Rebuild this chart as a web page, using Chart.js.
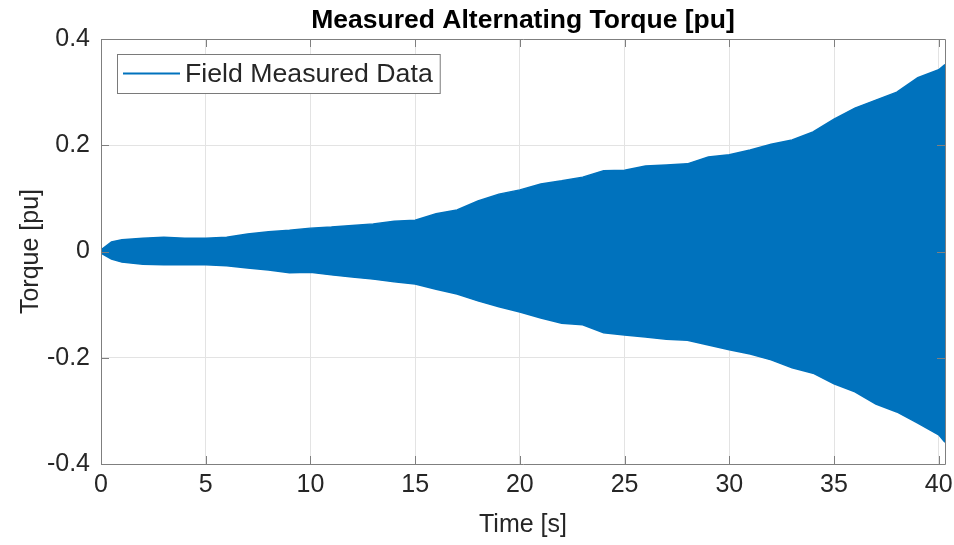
<!DOCTYPE html>
<html><head><meta charset="utf-8">
<script src="https://cdn.jsdelivr.net/npm/chart.js@4.4.1/dist/chart.umd.min.js"></script>
<style>html,body{margin:0;padding:0;background:#fff;}#wrap{width:954px;height:545px;position:relative;}</style>
</head><body><div id="wrap"><canvas id="c" width="954" height="545"></canvas></div>
<script>
// Envelope of the measured torque oscillation (time in s, torque in pu)
const times = [0, 0.5, 1, 2, 3, 4, 5, 6, 7, 8, 9, 10, 11, 12, 13, 14, 15, 16, 17, 18, 19, 20,
  21, 22, 23, 24, 25, 26, 27, 28, 29, 30, 31, 32, 33, 34, 35, 36, 37, 38, 39, 40, 40.3];
const upperEnvelope = [0.003, 0.018, 0.022, 0.025, 0.027, 0.025, 0.025, 0.027, 0.033, 0.037, 0.040, 0.044,
  0.046, 0.049, 0.052, 0.057, 0.059, 0.071, 0.078, 0.095, 0.108, 0.116, 0.127, 0.133, 0.140, 0.152,
  0.153, 0.161, 0.163, 0.165, 0.178, 0.182, 0.191, 0.202, 0.210, 0.225, 0.249, 0.270, 0.285, 0.300,
  0.327, 0.342, 0.352];
const lowerEnvelope = [-0.003, -0.014, -0.020, -0.024, -0.025, -0.025, -0.025, -0.027, -0.031, -0.035, -0.040, -0.039,
  -0.044, -0.048, -0.052, -0.057, -0.061, -0.071, -0.080, -0.093, -0.104, -0.114, -0.125, -0.135, -0.138, -0.153,
  -0.157, -0.161, -0.165, -0.167, -0.176, -0.185, -0.193, -0.204, -0.219, -0.229, -0.249, -0.264, -0.287, -0.302,
  -0.323, -0.345, -0.359];
const xTicks = [0, 5, 10, 15, 20, 25, 30, 35, 40];
const yTicks = [-0.4, -0.2, 0, 0.2, 0.4];
const chartTitle = 'Measured Alternating Torque [pu]';
const seriesLabel = 'Field Measured Data';
const xLabel = 'Time [s]';
const yLabel = 'Torque [pu]';

const BLUE = '#0072BD';
const TEXT = '#262626';
const FONT = "'Liberation Sans', Arial, Helvetica, sans-serif";

const upperPts = times.map((t, i) => ({x: t, y: upperEnvelope[i]}));
const lowerPts = times.map((t, i) => ({x: t, y: lowerEnvelope[i]}));

const framePlugin = {
  id: 'frame',
  afterDatasetsDraw(chart) {
    const {ctx, chartArea: a, scales: {x, y}} = chart;
    ctx.save();
    ctx.strokeStyle = '#7f7f7f';
    ctx.lineWidth = 1;
    ctx.beginPath();
    ctx.rect(Math.round(a.left) + 0.5, Math.round(a.top) + 0.5, Math.round(a.right - a.left), Math.round(a.bottom - a.top));
    ctx.stroke();
    const L = 8;
    ctx.beginPath();
    xTicks.forEach(v => {
      const px = Math.round(x.getPixelForValue(v)) + 0.5;
      ctx.moveTo(px, a.bottom); ctx.lineTo(px, a.bottom - L);
      ctx.moveTo(px, a.top); ctx.lineTo(px, a.top + L);
    });
    yTicks.forEach(v => {
      const py = Math.round(y.getPixelForValue(v)) + 0.5;
      ctx.moveTo(a.left, py); ctx.lineTo(a.left + L, py);
      ctx.moveTo(a.right, py); ctx.lineTo(a.right - L, py);
    });
    ctx.stroke();
    ctx.restore();
  },
  afterDraw(chart) {
    const {ctx, chartArea: a} = chart;
    ctx.save();
    // title
    ctx.fillStyle = '#000';
    ctx.font = "bold 26.5px " + FONT;
    ctx.textAlign = 'center';
    ctx.textBaseline = 'alphabetic';
    ctx.fillText(chartTitle, (a.left + a.right) / 2, 28);
    // legend
    ctx.font = "26.7px " + FONT;
    const tw = ctx.measureText(seriesLabel).width;
    const bx = 117, by = 54, bh = 39;
    const bw = (185 - bx) + tw + 7;
    ctx.fillStyle = '#fff';
    ctx.fillRect(bx, by, bw, bh);
    ctx.strokeStyle = '#7a7a7a';
    ctx.lineWidth = 1;
    ctx.strokeRect(bx + 0.5, by + 0.5, bw, bh);
    ctx.strokeStyle = BLUE;
    ctx.lineWidth = 2;
    ctx.beginPath(); ctx.moveTo(123, by + bh / 2); ctx.lineTo(180, by + bh / 2); ctx.stroke();
    ctx.fillStyle = TEXT;
    ctx.textAlign = 'left';
    ctx.textBaseline = 'middle';
    ctx.fillText(seriesLabel, 185, by + bh / 2 + 1);
    ctx.restore();
  }
};

new Chart(document.getElementById('c'), {
  type: 'line',
  data: {
    datasets: [
      {label: seriesLabel, data: upperPts, borderColor: BLUE, backgroundColor: BLUE, borderWidth: 1.5,
       pointRadius: 0, tension: 0, fill: '+1'},
      {label: '', data: lowerPts, borderColor: BLUE, backgroundColor: BLUE, borderWidth: 1.5,
       pointRadius: 0, tension: 0, fill: false}
    ]
  },
  options: {
    responsive: false,
    animation: false,
    devicePixelRatio: 1,
    layout: {padding: {top: 39, right: 9, bottom: 0, left: 0}},
    plugins: {legend: {display: false}, title: {display: false}, tooltip: {enabled: false}},
    scales: {
      x: {
        type: 'linear', min: 0, max: 40.3,
        afterBuildTicks: s => { s.ticks = xTicks.map(v => ({value: v})); },
        afterFit: s => { s.height = 81; s.paddingLeft = 0; s.paddingRight = 0; },
        grid: {color: '#e3e3e3', lineWidth: 1, drawTicks: false},
        border: {display: false},
        ticks: {color: TEXT, font: {family: FONT, size: 25}, padding: 6, maxRotation: 0,
          callback: v => String(v)},
        title: {display: true, text: xLabel, color: TEXT, font: {family: FONT, size: 25}, padding: {top: 0, bottom: 5}}
      },
      y: {
        type: 'linear', min: -0.4, max: 0.4,
        afterBuildTicks: s => { s.ticks = yTicks.map(v => ({value: v})); },
        afterFit: s => { s.width = 101; s.paddingTop = 0; s.paddingBottom = 0; },
        grid: {color: '#e3e3e3', lineWidth: 1, drawTicks: false},
        border: {display: false},
        ticks: {color: TEXT, font: {family: FONT, size: 25}, padding: 11,
          callback: v => Math.abs(v) < 1e-9 ? '0' : String(+v.toFixed(1))},
        title: {display: true, text: yLabel, color: TEXT, font: {family: FONT, size: 25}, padding: {top: 16, bottom: 0}}
      }
    }
  },
  plugins: [framePlugin]
});
</script>
</body></html>
